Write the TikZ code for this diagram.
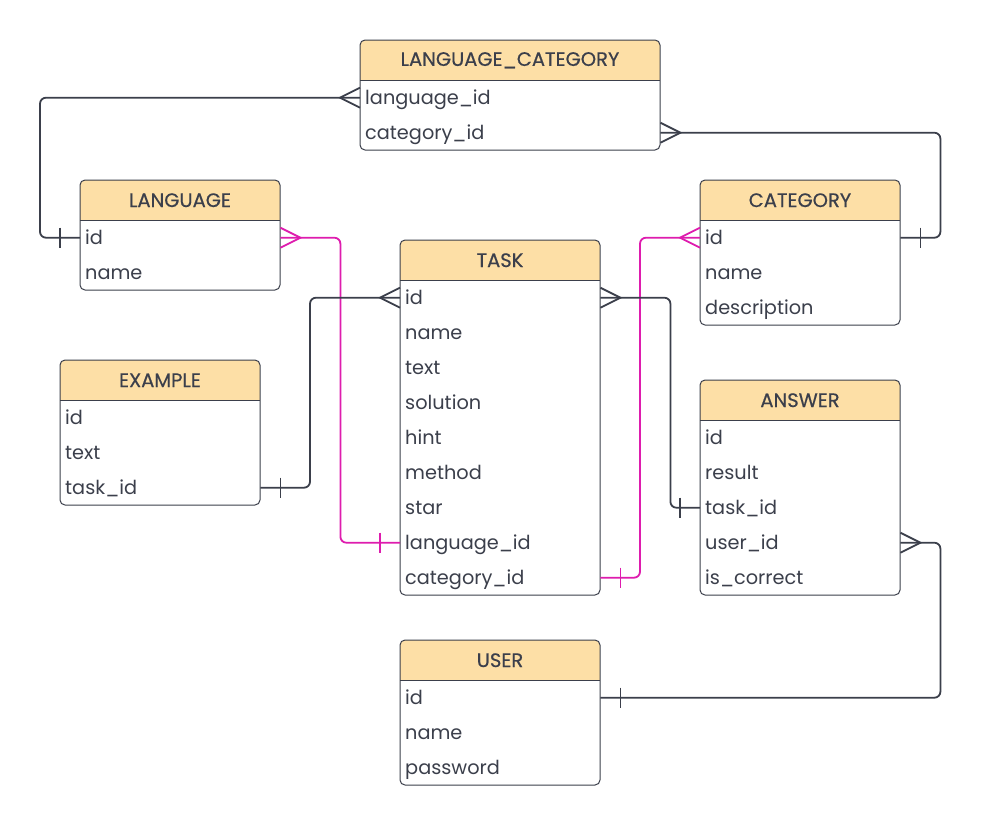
\documentclass[tikz,border=0pt]{standalone}
\usepackage{fontspec}
\setmainfont{Poppins}
\newfontfamily\hdrfont{Poppins}[FakeBold=0.5]
\definecolor{ink}{HTML}{3B3F4B}
\definecolor{hdrfill}{HTML}{FDDFA6}
\definecolor{pinkln}{HTML}{DE1CAE}
\tikzset{
  frame/.style={draw=ink, line width=1pt, rounded corners=5pt},
  link/.style={draw=ink, line width=1.8pt, rounded corners=6pt},
  plink/.style={draw=pinkln, line width=1.8pt, rounded corners=6pt},
  hdrtext/.style={inner sep=0pt, minimum height=40pt, text=ink, font=\hdrfont\fontsize{19.5}{22}\selectfont, anchor=north},
  rowtext/.style={inner xsep=5pt, inner ysep=0pt, minimum height=35pt, text height=15pt, text depth=1pt, align=left, text=ink, font=\fontsize{19.3}{22}\selectfont, anchor=north west},
}
% #1 name, #2 x, #3 y, #4 width, #5 nrows, #6 title, #7 rows
\newcommand\erentity[7]{%
  \path[fill=white, rounded corners=5pt] (#2,#3) rectangle ++(#4,40+35*#5);
  \begin{scope}
    \clip[rounded corners=5pt] (#2,#3) rectangle ++(#4,40+35*#5);
    \fill[hdrfill] (#2,#3) rectangle ++(#4,40);
  \end{scope}
  \node[hdrtext] (#1) at (#2+#4/2,#3) {#6};
  \foreach \t [count=\i] in {#7}
    \node[rowtext, text width=\the\dimexpr#4pt-10pt\relax] (#1-\i) at (#2,#3+5+35*\i) {\t};
  \draw[draw=ink, line width=1pt] (#2,#3+40) -- ++(#4,0);
  \draw[frame] (#2,#3) rectangle ++(#4,40+35*#5);
}
\newcommand\manyW[2]{\draw[#1, rounded corners=0pt] ([shift={(0,-10)}]#2) -- ([shift={(-20,0)}]#2) -- ([shift={(0,10)}]#2);}
\newcommand\manyE[2]{\draw[#1, rounded corners=0pt] ([shift={(0,-10)}]#2) -- ([shift={(20,0)}]#2) -- ([shift={(0,10)}]#2);}
\newcommand\oneW[2]{\draw[#1, rounded corners=0pt] ([shift={(-20,-10)}]#2) -- ([shift={(-20,10)}]#2);}
\newcommand\oneE[2]{\draw[#1, rounded corners=0pt] ([shift={(20,-10)}]#2) -- ([shift={(20,10)}]#2);}
\begin{document}
\begin{tikzpicture}[x=1pt, y=-1pt]
\useasboundingbox[fill=white] (0,0) rectangle (981,825);
\erentity{lc}{360}{40}{300}{2}{LANGUAGE\_CATEGORY}{language\_id,category\_id}
\erentity{lang}{80}{180}{200}{2}{LANGUAGE}{id,name}
\erentity{cat}{700}{180}{200}{3}{CATEGORY}{id,name,description}
\erentity{task}{400}{240}{200}{9}{TASK}{id,name,text,solution,hint,method,star,language\_id,category\_id}
\erentity{ex}{60}{360}{200}{3}{EXAMPLE}{id,text,task\_id}
\erentity{ans}{700}{380}{200}{5}{ANSWER}{id,result,task\_id,user\_id,is\_correct}
\erentity{user}{400}{640}{200}{3}{USER}{id,name,password}
% connectors
\draw[link] (lang-1.west) -- ++(-40,0) |- (lc-1.west);
\oneW{link}{lang-1.west}
\manyW{link}{lc-1.west}
\draw[link] (lc-2.east) -- ++(280,0) |- (cat-1.east);
\manyE{link}{lc-2.east}
\oneE{link}{cat-1.east}
\draw[plink] (lang-1.east) -- ++(60,0) |- (task-8.west);
\manyE{plink}{lang-1.east}
\oneW{plink}{task-8.west}
\draw[plink] (cat-1.west) -- ++(-60,0) |- (task-9.east);
\manyW{plink}{cat-1.west}
\oneE{plink}{task-9.east}
\draw[link] (task-1.west) -- ++(-90,0) |- (ex-3.east);
\manyW{link}{task-1.west}
\oneE{link}{ex-3.east}
\draw[link] (task-1.east) -- ++(70,0) |- (ans-3.west);
\manyE{link}{task-1.east}
\oneW{link}{ans-3.west}
\draw[link] (ans-4.east) -- ++(40,0) |- (user-1.east);
\manyE{link}{ans-4.east}
\oneE{link}{user-1.east}
\end{tikzpicture}
\end{document}
